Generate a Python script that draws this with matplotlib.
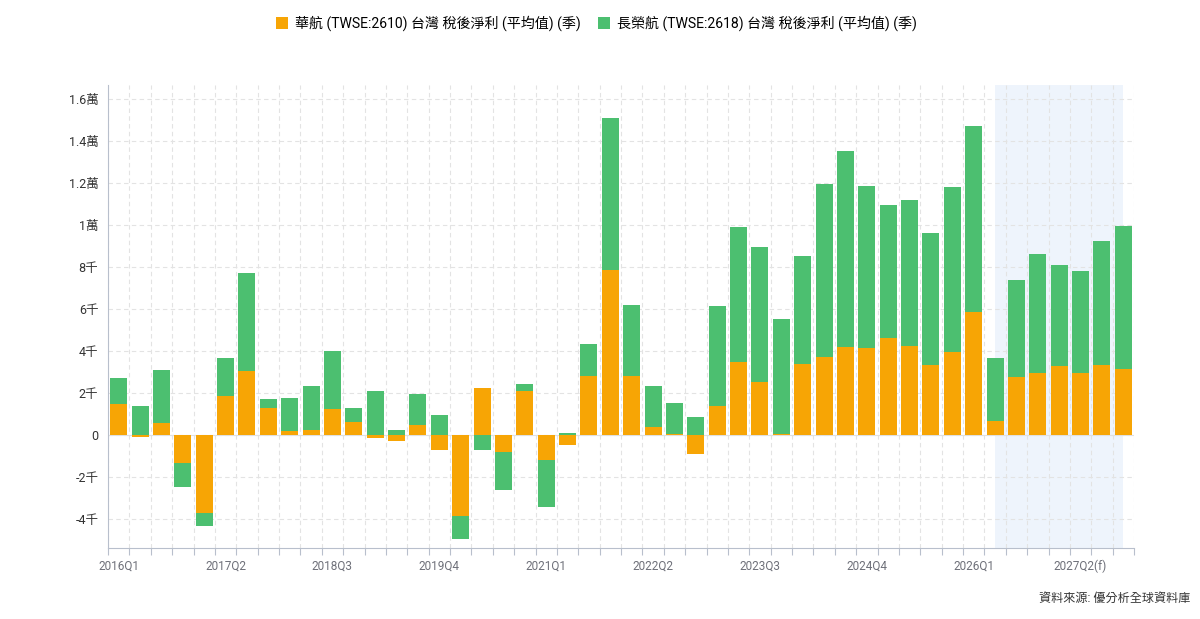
import matplotlib
matplotlib.use('Agg')
import matplotlib.pyplot as plt
import numpy as np

# quarters 2016Q1 .. 2027Q4, values in thousands
quarters = [f'{y}Q{q}' for y in range(2016, 2028) for q in range(1, 5)]
ci_values = [1.48, -0.11, 0.59, -1.32, -3.70, 1.86, 3.06, 1.27, 0.19, 0.24, 1.22, 0.60,
             -0.16, -0.29, 0.48, -0.73, -3.84, 2.22, -0.83, 2.10, -1.21, -0.46, 2.81, 7.87,
             2.81, 0.37, 0.03, -0.90, 1.40, 3.46, 2.52, 0.03, 3.40, 3.71, 4.19, 4.16,
             4.63, 4.24, 3.33, 3.94, 5.86, 0.68, 2.76, 2.94, 3.29, 2.94, 3.33, 3.14]
br_values = [1.22, 1.40, 2.51, -1.14, -0.62, 1.81, 4.65, 0.43, 1.59, 2.11, 2.78, 0.67,
             2.10, 0.25, 1.49, 0.97, -1.10, -0.73, -1.78, 0.32, -2.22, 0.10, 1.51, 7.22,
             3.38, 1.95, 1.48, 0.86, 4.74, 6.44, 6.43, 5.51, 5.14, 8.24, 9.33, 7.70,
             6.31, 6.93, 6.30, 7.85, 8.85, 2.99, 4.62, 5.66, 4.79, 4.87, 5.92, 6.81]
forecast_start = '2026Q2'
label_step = 5

y_ticks = [-4, -2, 0, 2, 4, 6, 8, 10, 12, 14, 16]
y_labels = ['-4千', '-2千', '0', '2千', '4千', '6千', '8千', '1萬', '1.2萬', '1.4萬', '1.6萬']

ci_name = '華航 (TWSE:2610) 台灣 稅後淨利 (平均值) (季)'
br_name = '長榮航 (TWSE:2618) 台灣 稅後淨利 (平均值) (季)'

orange = '#F7A505'
green = '#4CBF70'
axis_color = '#B8BFCC'
label_color = '#6E7079'

plt.rcParams['font.family'] = ['Roboto', 'Noto Sans CJK TC', 'DejaVu Sans']

fig = plt.figure(figsize=(12, 6.19), dpi=100)
ax = fig.add_axes([0.09, 0.1147, 0.855, 0.748])

x = np.arange(len(quarters))
ci = np.array(ci_values)
br = np.array(br_values)
# positive and negative values stack separately
br_bottom = np.where(br >= 0, np.maximum(ci, 0), np.minimum(ci, 0))

fs = quarters.index(forecast_start)
ax.axvspan(fs, len(quarters) - 1, color='#EEF4FC', zorder=0, lw=0)

ax.bar(x, ci, width=0.8, color=orange, label=ci_name, zorder=3)
ax.bar(x, br, width=0.8, bottom=br_bottom, color=green, label=br_name, zorder=3)

ax.set_xlim(-0.5, len(quarters) - 0.5)
ax.set_ylim(-5.38, 16.67)

ax.set_yticks(y_ticks)
ax.set_yticklabels(y_labels)
ax.yaxis.set_tick_params(length=0, pad=7, labelsize=9, labelcolor='#333333')

tick_pos = list(range(0, len(quarters), label_step))
tick_lab = [quarters[i] + ('(f)' if i >= fs else '') for i in tick_pos]
ax.set_xticks(tick_pos)
ax.set_xticklabels(tick_lab)
ax.xaxis.set_tick_params(which='major', length=0, pad=8, labelsize=8.5, labelcolor=label_color)
ax.set_xticks(np.arange(-0.5, len(quarters), 1), minor=True)
ax.xaxis.set_tick_params(which='minor', length=5, color=axis_color, width=0.8)

ax.grid(axis='y', which='major', color='#E3E3E3', linestyle=(0, (4, 3)), lw=0.8, zorder=1)
ax.grid(axis='x', which='minor', color='#E3E3E3', linestyle=(0, (4, 3)), lw=0.8, zorder=1)
ax.axhline(0, color='#E0E0E0', lw=0.8, zorder=2)

for s in ['top', 'right']:
    ax.spines[s].set_visible(False)
ax.spines['left'].set_color(axis_color)
ax.spines['bottom'].set_color(axis_color)

fig.legend(loc='upper center', bbox_to_anchor=(0.497, 0.995), ncol=2, frameon=False,
           fontsize=10.1, handlelength=0.9, handleheight=0.9, handletextpad=0.5,
           columnspacing=1.2)

fig.text(0.992, 0.033, '資料來源: 優分析全球資料庫', ha='right', va='center',
         fontsize=8.7, color='#333333')

fig.savefig('out.png', dpi=100)
